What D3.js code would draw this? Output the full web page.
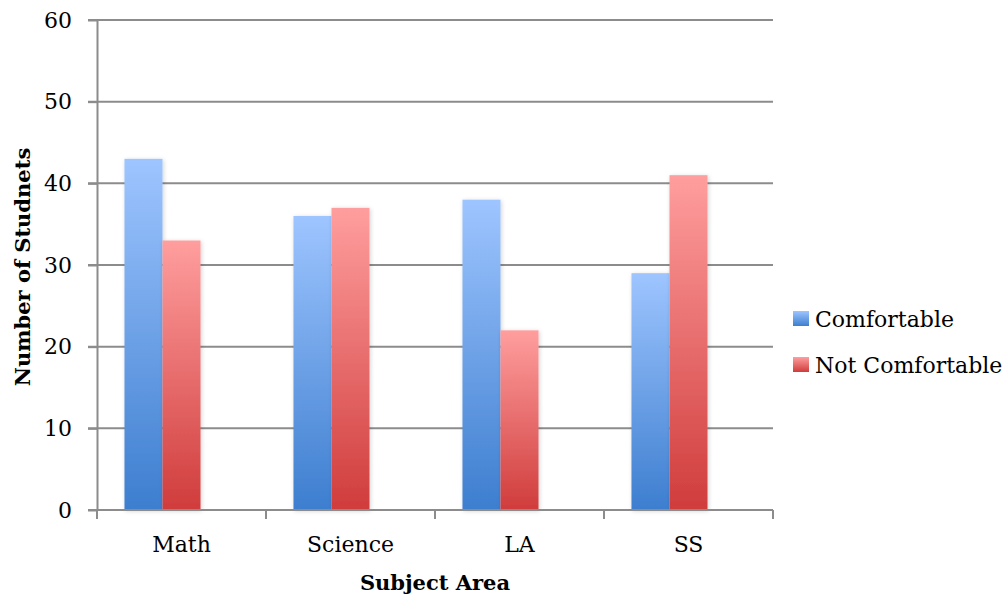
<!DOCTYPE html>
<html><head><meta charset="utf-8">
<script src="https://cdn.jsdelivr.net/npm/d3@7"></script>
<style>body{margin:0;background:#fff;} svg{display:block;}</style>
</head><body>
<script>
const categories = ["Math", "Science", "LA", "SS"];
const seriesNames = ["Comfortable", "Not Comfortable"];
const comfortable = [43, 36, 38, 29];
const notComfortable = [33, 37, 22, 41];
const yTicks = [0, 10, 20, 30, 40, 50, 60];

const W = 1008, H = 601;
const m = {left: 97, right: 235, top: 20, bottom: 91};
const FONT = "'DejaVu Serif', serif";
const FS = 22;
const svg = d3.select("body").append("svg").attr("width", W).attr("height", H);
const defs = svg.append("defs");
const grads = [["gb", "#9ec5ff", "#3d7ecf"], ["gr", "#ff9e9e", "#d03c3c"]];
grads.forEach(([id, top, bot]) => {
  const g = defs.append("linearGradient").attr("id", id).attr("x1", 0).attr("y1", 0).attr("x2", 0).attr("y2", 1);
  g.append("stop").attr("offset", "0%").attr("stop-color", top);
  g.append("stop").attr("offset", "100%").attr("stop-color", bot);
});
const f = defs.append("filter").attr("id", "sh").attr("x", "-20%").attr("y", "-10%").attr("width", "140%").attr("height", "120%");
f.append("feDropShadow").attr("dx", 1).attr("dy", 1).attr("stdDeviation", 2).attr("flood-color", "#000").attr("flood-opacity", 0.18);

const x0 = d3.scaleBand().domain(categories).range([m.left, W - m.right]).paddingInner(0).paddingOuter(0);
// Excel-like layout: three slots per category (third slot empty)
const x1 = d3.scaleBand().domain(["s0", "s1", "s2"]).range([0, x0.bandwidth()]).paddingOuter(0.7226).paddingInner(0);
const y = d3.scaleLinear().domain([0, 60]).range([H - m.bottom, m.top]);

// gridlines
svg.append("g").selectAll("line").data(yTicks.filter(t => t > 0)).join("line")
  .attr("x1", m.left - 9).attr("x2", W - m.right)
  .attr("y1", d => y(d)).attr("y2", d => y(d))
  .attr("stroke", "#8c8c8c").attr("stroke-width", 2);

// y axis
const yAxis = svg.append("g").attr("transform", `translate(${m.left},0)`)
  .call(d3.axisLeft(y).tickValues(yTicks).tickSize(9).tickPadding(16).tickSizeOuter(0));
yAxis.select(".domain").attr("stroke", "#8c8c8c").attr("stroke-width", 2);
yAxis.selectAll(".tick line").attr("stroke", "#8c8c8c").attr("stroke-width", 2);
yAxis.selectAll("text").attr("font-family", FONT).attr("font-size", FS).attr("fill", "#000");

// bars
const data = categories.map((c, i) => ({c, vals: [comfortable[i], notComfortable[i]]}));
const groups = svg.append("g").selectAll("g").data(data).join("g")
  .attr("transform", d => `translate(${x0(d.c)},0)`);
groups.selectAll("rect").data(d => d.vals.map((v, j) => ({v, j}))).join("rect")
  .attr("x", d => x1("s" + d.j))
  .attr("width", x1.bandwidth())
  .attr("y", d => y(d.v))
  .attr("height", d => y(0) - y(d.v))
  .attr("fill", d => d.j === 0 ? "url(#gb)" : "url(#gr)")
  .attr("filter", "url(#sh)");

// x axis
const xAxis = svg.append("g").attr("transform", `translate(0,${y(0)})`)
  .call(d3.axisBottom(x0).tickSize(0).tickPadding(26));
xAxis.select(".domain").remove();
xAxis.selectAll("text").attr("font-family", FONT).attr("font-size", FS).attr("fill", "#000");
svg.append("line").attr("x1", m.left - 9).attr("x2", W - m.right).attr("y1", y(0)).attr("y2", y(0))
  .attr("stroke", "#8c8c8c").attr("stroke-width", 2);
const bounds = categories.map(c => x0(c)).concat([x0.range()[1]]);
svg.append("g").selectAll("line").data(bounds).join("line")
  .attr("x1", d => d).attr("x2", d => d).attr("y1", y(0)).attr("y2", y(0) + 9)
  .attr("stroke", "#8c8c8c").attr("stroke-width", 2);

// axis titles
svg.append("text").attr("x", 435).attr("y", 590)
  .attr("text-anchor", "middle").attr("font-family", FONT).attr("font-weight", "bold").attr("font-size", 21)
  .text("Subject Area");
svg.append("text").attr("transform", `translate(30,${267}) rotate(-90)`)
  .attr("text-anchor", "middle").attr("font-family", FONT).attr("font-weight", "bold").attr("font-size", 21)
  .text("Number of Studnets");

// legend
const leg = svg.append("g").attr("transform", "translate(793,311)");
seriesNames.forEach((s, i) => {
  const g = leg.append("g").attr("transform", `translate(0,${i * 46})`);
  g.append("rect").attr("width", 16).attr("height", 15).attr("fill", i === 0 ? "url(#gb)" : "url(#gr)");
  g.append("text").attr("x", 22).attr("y", 16).attr("font-family", FONT).attr("font-size", FS).text(s);
});
</script>
</body></html>
